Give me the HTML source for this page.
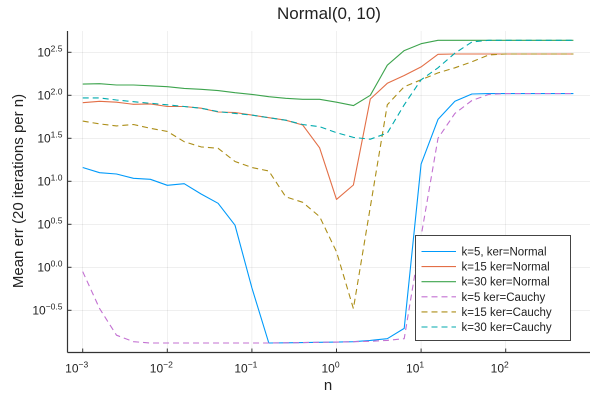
<!DOCTYPE html>
<html><head><meta charset="utf-8"><style>
html,body{margin:0;padding:0;background:#fff;}
svg{display:block;font-family:"Liberation Sans",sans-serif;}
</style></head><body>
<svg id="chart" width="600" height="400" viewBox="0 0 600 400">
<text x="329" y="19" text-anchor="middle" font-size="17" fill="#222">Normal(0, 10)</text>
<text x="328" y="390" text-anchor="middle" font-size="15" fill="#222">n</text>
<text transform="translate(23,191) rotate(-90)" text-anchor="middle" font-size="15" fill="#222">Mean err (20 iterations per n)</text>
<g id="grid"></g><g id="axes"></g><g id="series"></g><g id="legend"></g>
</svg>
<script>
const xTicks = [-3, -2, -1, 0, 1, 2];
const yTicks = [2.5, 2.0, 1.5, 1.0, 0.5, 0.0, -0.5];
const yTickLabels = ["2.5", "2.0", "1.5", "1.0", "0.5", "0.0", "−0.5"];
const logN = Array.from({length: 30}, (_, i) => -3 + 0.2 * i);
const seriesNames = ["k=5, ker=Normal", "k=15 ker=Normal", "k=30 ker=Normal", "k=5 ker=Cauchy", "k=15 ker=Cauchy", "k=30 ker=Cauchy"];
const k5Normal = [1.16,1.10,1.085,1.035,1.023,0.953,0.972,0.852,0.744,0.49,-0.24,-0.88,-0.878,-0.875,-0.872,-0.87,-0.865,-0.85,-0.83,-0.71,1.20,1.72,1.93,2.015,2.02,2.02,2.02,2.02,2.02,2.02];
const k15Normal = [1.914,1.93,1.92,1.895,1.90,1.87,1.87,1.85,1.806,1.80,1.77,1.74,1.71,1.655,1.39,0.79,0.957,1.957,2.14,2.23,2.33,2.477,2.48,2.48,2.48,2.48,2.48,2.48,2.48,2.48];
const k30Normal = [2.13,2.135,2.12,2.12,2.11,2.10,2.08,2.07,2.055,2.03,2.01,1.984,1.965,1.953,1.953,1.92,1.88,2.0,2.35,2.52,2.60,2.64,2.64,2.64,2.64,2.64,2.64,2.64,2.64,2.64];
const k5Cauchy = [-0.05,-0.48,-0.79,-0.865,-0.88,-0.88,-0.88,-0.88,-0.88,-0.88,-0.88,-0.88,-0.878,-0.875,-0.872,-0.87,-0.865,-0.86,-0.85,-0.83,0.36,1.50,1.79,1.94,2.01,2.02,2.02,2.02,2.02,2.02];
const k15Cauchy = [1.70,1.667,1.644,1.66,1.616,1.58,1.46,1.40,1.384,1.23,1.16,1.12,0.82,0.756,0.59,0.18,-0.48,0.70,1.89,2.10,2.18,2.26,2.32,2.39,2.47,2.48,2.48,2.48,2.48,2.48];
const k30Cauchy = [1.97,1.97,1.945,1.926,1.907,1.89,1.87,1.85,1.81,1.79,1.77,1.74,1.71,1.66,1.635,1.565,1.51,1.49,1.56,1.89,2.18,2.32,2.49,2.62,2.64,2.64,2.64,2.64,2.64,2.64];
const allSeries = [k5Normal, k15Normal, k30Normal, k5Cauchy, k15Cauchy, k30Cauchy];
const colors = ["#009AFA","#E36F47","#3EA44E","#C371D2","#AC8E18","#00AAAE"];
const dashed = [false,false,false,true,true,true];
const seriesKeys = ["k5-normal","k15-normal","k30-normal","k5-cauchy","k15-cauchy","k30-cauchy"];

const NS = "http://www.w3.org/2000/svg";
const L = 67.5, R = 590, T = 31, B = 352.5;
const xs = v => 82.7 + (v + 3) * 84.6;
const ys = v => 267.3 - v * 86;
function mk(tag, attrs, parent) {
  const e = document.createElementNS(NS, tag);
  for (const k in attrs) e.setAttribute(k, attrs[k]);
  parent.appendChild(e);
  return e;
}
const grid = document.getElementById("grid"), axes = document.getElementById("axes");
xTicks.forEach(t => {
  const x = xs(t);
  const g = mk("line", {x1:x, x2:x, y1:T, y2:B, stroke:"#000", "stroke-opacity":0.1, "stroke-width":0.6}, grid);
  
  
  const tk = mk("line", {x1:x, x2:x, y1:B, y2:B-4, stroke:"#333", "stroke-width":1}, axes);
  
  
  const tx = mk("text", {x:x-6, y:B+20, "font-size":12, fill:"#222", "text-anchor":"middle"}, axes);
  
  
  tx.innerHTML = '10<tspan dy="-5" font-size="8.5">' + (t < 0 ? '−' + (-t) : t) + '</tspan>';
});
yTicks.forEach((t, i) => {
  const y = ys(t);
  const g = mk("line", {x1:L, x2:R, y1:y, y2:y, stroke:"#000", "stroke-opacity":0.1, "stroke-width":0.6}, grid);
  
  
  const tk = mk("line", {x1:L, x2:L+4, y1:y, y2:y, stroke:"#333", "stroke-width":1}, axes);
  
  
  const tx = mk("text", {x:L-5, y:y+4, "font-size":12, fill:"#222", "text-anchor":"end"}, axes);
  
  
  tx.innerHTML = '10<tspan dy="-5" font-size="8.5">' + yTickLabels[i] + '</tspan>';
});
const xa = mk("line", {x1:L, x2:R, y1:B, y2:B, stroke:"#333", "stroke-width":1.2}, axes);


const ya = mk("line", {x1:L, x2:L, y1:T, y2:B, stroke:"#333", "stroke-width":1.2}, axes);



const sg = document.getElementById("series");
allSeries.forEach((vals, s) => {
  const pts = vals.map((v, i) => xs(logN[i]).toFixed(1) + "," + ys(v).toFixed(1)).join(" ");
  const a = {points:pts, fill:"none", stroke:colors[s], "stroke-width":1.1, "stroke-linejoin":"round"};
  if (dashed[s]) a["stroke-dasharray"] = "6,4";
  const p = mk("polyline", a, sg);
  
  
});

const lg = document.getElementById("legend");
const box = mk("rect", {x:415.5, y:235.5, width:155, height:105, fill:"#fff", stroke:"#444", "stroke-width":1}, lg);


seriesNames.forEach((nm, s) => {
  const y = 251.5 + s * 15.1;
  const a = {x1:421.5, x2:456, y1:y, y2:y, stroke:colors[s], "stroke-width":1.1};
  if (dashed[s]) a["stroke-dasharray"] = "6,4";
  const l = mk("line", a, lg);
  
  
  const t = mk("text", {x:461.5, y:y+4, "font-size":11.5, fill:"#222"}, lg);
  
  
  t.textContent = nm;
});
</script>
</body></html>
